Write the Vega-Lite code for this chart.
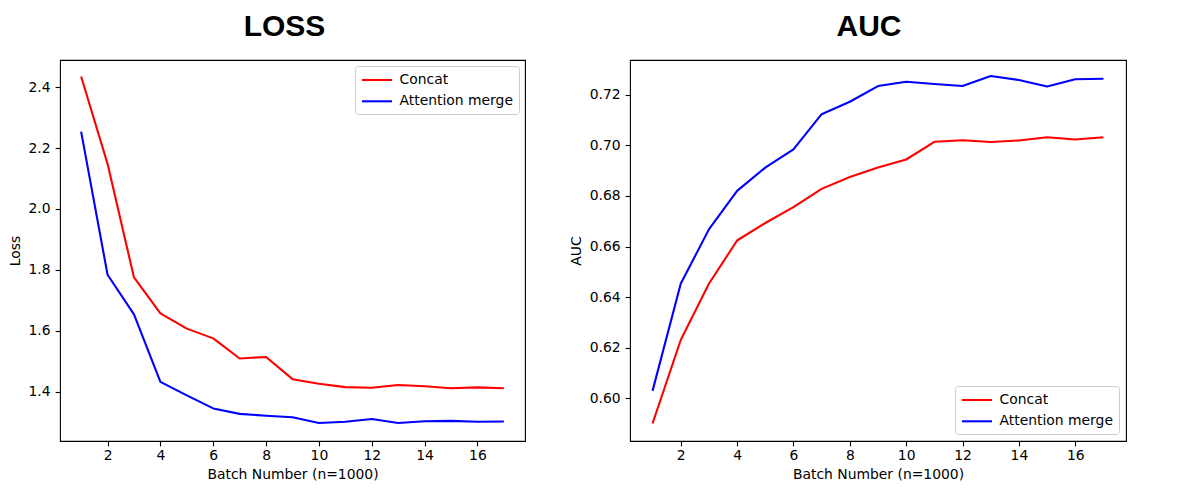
{
  "$schema": "https://vega.github.io/schema/vega-lite/v6.json",
  "padding": {"left": 7, "top": 11, "right": 5, "bottom": 5},
  "background": "white",
  "data": {
    "values": [
      {"batch": 1, "model": "Concat", "loss": 2.435, "auc": 0.5901},
      {"batch": 2, "model": "Concat", "loss": 2.148, "auc": 0.6231},
      {"batch": 3, "model": "Concat", "loss": 1.775, "auc": 0.6453},
      {"batch": 4, "model": "Concat", "loss": 1.657, "auc": 0.6624},
      {"batch": 5, "model": "Concat", "loss": 1.607, "auc": 0.6693},
      {"batch": 6, "model": "Concat", "loss": 1.575, "auc": 0.6756},
      {"batch": 7, "model": "Concat", "loss": 1.509, "auc": 0.6828},
      {"batch": 8, "model": "Concat", "loss": 1.514, "auc": 0.6875},
      {"batch": 9, "model": "Concat", "loss": 1.441, "auc": 0.6912},
      {"batch": 10, "model": "Concat", "loss": 1.426, "auc": 0.6944},
      {"batch": 11, "model": "Concat", "loss": 1.415, "auc": 0.7014},
      {"batch": 12, "model": "Concat", "loss": 1.413, "auc": 0.702},
      {"batch": 13, "model": "Concat", "loss": 1.422, "auc": 0.7013},
      {"batch": 14, "model": "Concat", "loss": 1.418, "auc": 0.7019},
      {"batch": 15, "model": "Concat", "loss": 1.411, "auc": 0.7032},
      {"batch": 16, "model": "Concat", "loss": 1.414, "auc": 0.7023},
      {"batch": 17, "model": "Concat", "loss": 1.411, "auc": 0.7032},
      {"batch": 1, "model": "Attention merge", "loss": 2.254, "auc": 0.603},
      {"batch": 2, "model": "Attention merge", "loss": 1.784, "auc": 0.6453},
      {"batch": 3, "model": "Attention merge", "loss": 1.654, "auc": 0.6668},
      {"batch": 4, "model": "Attention merge", "loss": 1.432, "auc": 0.682},
      {"batch": 5, "model": "Attention merge", "loss": 1.388, "auc": 0.6912},
      {"batch": 6, "model": "Attention merge", "loss": 1.345, "auc": 0.6984},
      {"batch": 7, "model": "Attention merge", "loss": 1.327, "auc": 0.7123},
      {"batch": 8, "model": "Attention merge", "loss": 1.321, "auc": 0.7172},
      {"batch": 9, "model": "Attention merge", "loss": 1.316, "auc": 0.7234},
      {"batch": 10, "model": "Attention merge", "loss": 1.297, "auc": 0.7251},
      {"batch": 11, "model": "Attention merge", "loss": 1.301, "auc": 0.7242},
      {"batch": 12, "model": "Attention merge", "loss": 1.31, "auc": 0.7234},
      {"batch": 13, "model": "Attention merge", "loss": 1.297, "auc": 0.7274},
      {"batch": 14, "model": "Attention merge", "loss": 1.303, "auc": 0.7258},
      {"batch": 15, "model": "Attention merge", "loss": 1.304, "auc": 0.7232},
      {"batch": 16, "model": "Attention merge", "loss": 1.301, "auc": 0.7261},
      {"batch": 17, "model": "Attention merge", "loss": 1.302, "auc": 0.7263}
    ]
  },
  "spacing": 42,
  "hconcat": [
    {
      "width": 465,
      "height": 381,
      "title": {"text": "LOSS", "dx": -8, "offset": 18},
      "mark": {"type": "line", "strokeWidth": 2.1, "strokeJoin": "round"},
      "encoding": {
        "x": {
          "field": "batch",
          "type": "quantitative",
          "scale": {"domain": [0.2, 17.8], "nice": false, "zero": false},
          "axis": {"title": "Batch Number (n=1000)", "values": [2, 4, 6, 8, 10, 12, 14, 16]}
        },
        "y": {
          "field": "loss",
          "type": "quantitative",
          "scale": {"domain": [1.238, 2.489], "nice": false, "zero": false},
          "axis": {"title": "Loss", "values": [1.4, 1.6, 1.8, 2.0, 2.2, 2.4], "format": ".1f"}
        },
        "color": {
          "field": "model",
          "type": "nominal",
          "sort": ["Concat", "Attention merge"],
          "scale": {"domain": ["Concat", "Attention merge"], "range": ["#ff0000", "#0000ff"]},
          "legend": {"orient": "top-right", "offset": 6}
        }
      }
    },
    {
      "width": 496,
      "height": 381,
      "title": {"text": "AUC", "dx": -9, "offset": 18},
      "mark": {"type": "line", "strokeWidth": 2.1, "strokeJoin": "round"},
      "encoding": {
        "x": {
          "field": "batch",
          "type": "quantitative",
          "scale": {"domain": [0.2, 17.8], "nice": false, "zero": false},
          "axis": {"title": "Batch Number (n=1000)", "values": [2, 4, 6, 8, 10, 12, 14, 16]}
        },
        "y": {
          "field": "auc",
          "type": "quantitative",
          "scale": {"domain": [0.5832, 0.7337], "nice": false, "zero": false},
          "axis": {"title": "AUC", "values": [0.6, 0.62, 0.64, 0.66, 0.68, 0.7, 0.72], "format": ".2f"}
        },
        "color": {
          "field": "model",
          "type": "nominal",
          "sort": ["Concat", "Attention merge"],
          "scale": {"domain": ["Concat", "Attention merge"], "range": ["#ff0000", "#0000ff"]},
          "legend": {"orient": "bottom-right", "offset": 7}
        }
      }
    }
  ],
  "resolve": {"legend": {"color": "independent"}},
  "config": {
    "view": {"stroke": "#000000", "strokeWidth": 1.1},
    "title": {"font": "Liberation Sans", "fontSize": 30, "fontWeight": "bold", "color": "#000000", "anchor": "middle"},
    "axis": {
      "grid": false,
      "domain": false,
      "labelFont": "DejaVu Sans",
      "labelFontSize": 13.9,
      "labelColor": "#000000",
      "labelPadding": 5,
      "titleFont": "DejaVu Sans",
      "titleFontSize": 13.9,
      "titleFontWeight": "normal",
      "titleColor": "#000000",
      "titlePadding": 6,
      "tickColor": "#000000",
      "tickSize": 4.9,
      "tickWidth": 1.1
    },
    "axisX": {"labelPadding": 3, "titlePadding": 5},
    "legend": {
      "title": null,
      "labelFont": "DejaVu Sans",
      "labelFontSize": 13.9,
      "labelColor": "#000000",
      "symbolType": "M-1,0H3.29",
      "symbolSize": 196,
      "symbolStrokeWidth": 2.1,
      "symbolFillColor": "transparent",
      "labelOffset": 22,
      "rowPadding": 5.3,
      "padding": 5.5,
      "strokeColor": "#cccccc",
      "fillColor": "#ffffff",
      "cornerRadius": 3
    }
  }
}
